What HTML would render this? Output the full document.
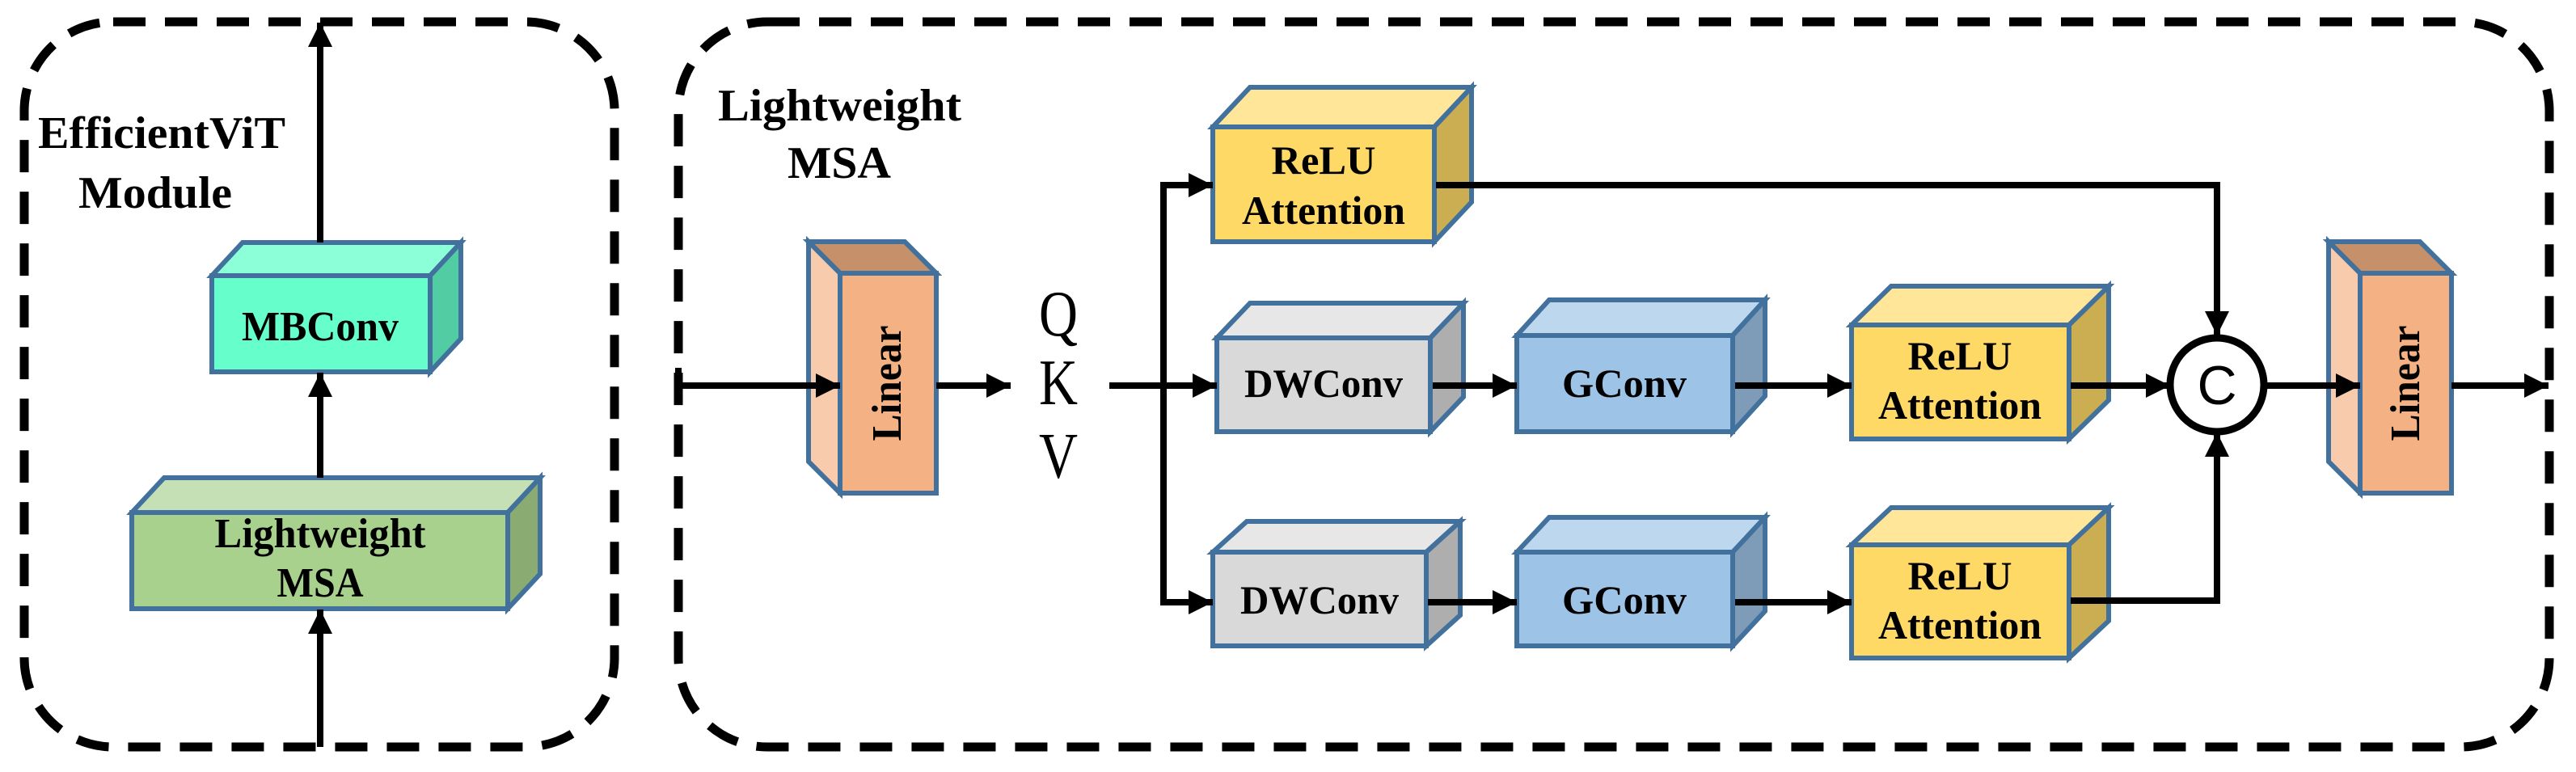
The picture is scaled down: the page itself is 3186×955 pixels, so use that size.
<!DOCTYPE html>
<html><head><meta charset="utf-8"><style>html,body{margin:0;padding:0;background:#fff}svg{display:block}</style></head>
<body>
<svg width="3186" height="955" viewBox="0 0 3186 955" xmlns="http://www.w3.org/2000/svg">
<defs>
<marker id="ah" markerUnits="userSpaceOnUse" markerWidth="34" markerHeight="34" refX="30" refY="15" orient="auto">
<path d="M0,0 L30,15 L0,30 Z" fill="#000"/>
</marker>
</defs>
<g fill="none" stroke="#000" stroke-width="11" stroke-dasharray="40 24">
<rect x="30" y="27" width="730" height="897" rx="110"/>
<rect x="839" y="27" width="2314" height="897" rx="110"/>
</g>
<g font-family="'Liberation Serif',serif" font-weight="bold" fill="#000" text-anchor="start">
<text x="47" y="183" font-size="56" textLength="306" lengthAdjust="spacingAndGlyphs">EfficientViT</text>
<text x="97" y="257" font-size="56" textLength="190" lengthAdjust="spacingAndGlyphs">Module</text>
<text x="888" y="149" font-size="56" textLength="301" lengthAdjust="spacingAndGlyphs">Lightweight</text>
<text x="974" y="220" font-size="56" textLength="128" lengthAdjust="spacingAndGlyphs">MSA</text>
</g>
<g stroke="#41719c" stroke-width="6" stroke-linejoin="miter">
<polygon points="262,341 300,300 570,300 532,341" fill="#8cffd9"/>
<polygon points="532,341 570,300 570,419 532,460" fill="#52cca3"/>
<rect x="262" y="341" width="270" height="119" fill="#66ffcc"/>
<polygon points="163,634 203,591 668,591 628,634" fill="#c5e0b4"/>
<polygon points="628,634 668,591 668,710 628,753" fill="#8aac72"/>
<rect x="163" y="634" width="465" height="119" fill="#a9d18e"/>
<polygon points="1039,338 1000,299 1119,299 1158,338" fill="#c5906a"/>
<polygon points="1039,338 1000,299 1000,571 1039,610" fill="#f8cbad"/>
<rect x="1039" y="338" width="119" height="272" fill="#f4b183"/>
<polygon points="2919,338 2880,299 2993,299 3032,338" fill="#c5906a"/>
<polygon points="2919,338 2880,299 2880,571 2919,610" fill="#f8cbad"/>
<rect x="2919" y="338" width="113" height="272" fill="#f4b183"/>
<polygon points="1500,157 1546,108 1820,108 1774,157" fill="#ffe699"/>
<polygon points="1774,157 1820,108 1820,250 1774,299" fill="#ccae52"/>
<rect x="1500" y="157" width="274" height="142" fill="#ffd966"/>
<polygon points="1505,418 1546,375 1810,375 1769,418" fill="#e7e7e7"/>
<polygon points="1769,418 1810,375 1810,491 1769,534" fill="#aeaeae"/>
<rect x="1505" y="418" width="264" height="116" fill="#d9d9d9"/>
<polygon points="1876,415 1916,371 2183,371 2143,415" fill="#bdd7ee"/>
<polygon points="2143,415 2183,371 2183,490 2143,534" fill="#7e9cb8"/>
<rect x="1876" y="415" width="267" height="119" fill="#9dc3e6"/>
<polygon points="2290,402 2339,354 2608,354 2559,402" fill="#ffe699"/>
<polygon points="2559,402 2608,354 2608,495 2559,543" fill="#ccae52"/>
<rect x="2290" y="402" width="269" height="141" fill="#ffd966"/>
<polygon points="1500,683 1542,645 1806,645 1764,683" fill="#e7e7e7"/>
<polygon points="1764,683 1806,645 1806,761 1764,799" fill="#aeaeae"/>
<rect x="1500" y="683" width="264" height="116" fill="#d9d9d9"/>
<polygon points="1876,683 1916,640 2183,640 2143,683" fill="#bdd7ee"/>
<polygon points="2143,683 2183,640 2183,756 2143,799" fill="#7e9cb8"/>
<rect x="1876" y="683" width="267" height="116" fill="#9dc3e6"/>
<polygon points="2290,674 2339,628 2608,628 2559,674" fill="#ffe699"/>
<polygon points="2559,674 2608,628 2608,768 2559,814" fill="#ccae52"/>
<rect x="2290" y="674" width="269" height="140" fill="#ffd966"/>
</g>
<g stroke="#000" stroke-width="8" fill="none">
<line x1="396" y1="924" x2="396" y2="754" marker-end="url(#ah)"/>
<line x1="396" y1="591" x2="396" y2="461" marker-end="url(#ah)"/>
<line x1="396" y1="300" x2="396" y2="28" marker-end="url(#ah)"/>
<line x1="839" y1="455" x2="839" y2="500"/>
<line x1="839" y1="477" x2="1039" y2="477" marker-end="url(#ah)"/>
<line x1="1158" y1="477" x2="1250" y2="477" marker-end="url(#ah)"/>
<line x1="1372" y1="477" x2="1439" y2="477"/>
<line x1="1439" y1="229" x2="1439" y2="746"/>
<line x1="1435" y1="229" x2="1500" y2="229" marker-end="url(#ah)"/>
<line x1="1439" y1="477" x2="1505" y2="477" marker-end="url(#ah)"/>
<line x1="1435" y1="745" x2="1500" y2="745" marker-end="url(#ah)"/>
<polyline points="1776,229 2742,229 2742,415" marker-end="url(#ah)"/>
<line x1="1772" y1="477" x2="1876" y2="477" marker-end="url(#ah)"/>
<line x1="2146" y1="477" x2="2290" y2="477" marker-end="url(#ah)"/>
<line x1="2561" y1="477" x2="2684" y2="477" marker-end="url(#ah)"/>
<line x1="1766" y1="745" x2="1876" y2="745" marker-end="url(#ah)"/>
<line x1="2146" y1="745" x2="2290" y2="745" marker-end="url(#ah)"/>
<polyline points="2561,743 2742,743 2742,535" marker-end="url(#ah)"/>
<line x1="2800" y1="477" x2="2919" y2="477" marker-end="url(#ah)"/>
<line x1="3032" y1="477" x2="3152" y2="477" marker-end="url(#ah)"/>
<circle cx="2742" cy="476" r="58" fill="#fff" stroke-width="9"/>
</g>
<g font-family="'Liberation Sans',sans-serif" text-anchor="middle">
<text x="2742" y="500" font-size="68">C</text>
</g>
<g font-family="'Liberation Serif',serif" font-weight="bold" fill="#000" text-anchor="middle">
<text x="396" y="421" font-size="52" textLength="194" lengthAdjust="spacingAndGlyphs">MBConv</text>
<text x="396" y="677" font-size="52" textLength="261" lengthAdjust="spacingAndGlyphs">Lightweight</text>
<text x="396" y="738" font-size="52" textLength="107" lengthAdjust="spacingAndGlyphs">MSA</text>
<text x="1637" y="215" font-size="50" textLength="129" lengthAdjust="spacingAndGlyphs">ReLU</text>
<text x="1637" y="277" font-size="50" textLength="202" lengthAdjust="spacingAndGlyphs">Attention</text>
<text x="1637" y="491" font-size="50" textLength="196" lengthAdjust="spacingAndGlyphs">DWConv</text>
<text x="2009" y="491" font-size="50" textLength="154" lengthAdjust="spacingAndGlyphs">GConv</text>
<text x="2424" y="457" font-size="50" textLength="129" lengthAdjust="spacingAndGlyphs">ReLU</text>
<text x="2424" y="518" font-size="50" textLength="202" lengthAdjust="spacingAndGlyphs">Attention</text>
<text x="1632" y="759" font-size="50" textLength="196" lengthAdjust="spacingAndGlyphs">DWConv</text>
<text x="2009" y="759" font-size="50" textLength="154" lengthAdjust="spacingAndGlyphs">GConv</text>
<text x="2424" y="729" font-size="50" textLength="129" lengthAdjust="spacingAndGlyphs">ReLU</text>
<text x="2424" y="790" font-size="50" textLength="202" lengthAdjust="spacingAndGlyphs">Attention</text>
<text transform="translate(1114,474) rotate(-90)" font-size="52" textLength="143" lengthAdjust="spacingAndGlyphs">Linear</text>
<text transform="translate(2992,474) rotate(-90)" font-size="52" textLength="143" lengthAdjust="spacingAndGlyphs">Linear</text>
</g>
<g font-family="'Liberation Serif',serif" fill="#000" text-anchor="middle">
<text x="1309" y="415" font-size="80" textLength="48" lengthAdjust="spacingAndGlyphs">Q</text>
<text x="1309" y="500" font-size="80" textLength="48" lengthAdjust="spacingAndGlyphs">K</text>
<text x="1309" y="591" font-size="80" textLength="48" lengthAdjust="spacingAndGlyphs">V</text>
</g>
</svg>
</body></html>
